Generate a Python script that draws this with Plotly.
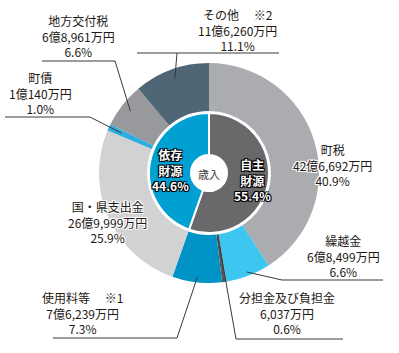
import math
import plotly.graph_objects as go

# ---- data ----
categories = ["町税", "繰越金", "分担金及び負担金", "使用料等", "国・県支出金", "町債", "地方交付税", "その他"]
notes = ["", "", "", "※1", "", "", "", "※2"]
amounts = ["42億6,692万円", "6億8,499万円", "6,037万円", "7億6,239万円", "26億9,999万円", "1億140万円", "6億8,961万円", "11億6,260万円"]
shares = [40.9, 6.6, 0.6, 7.3, 25.9, 1.0, 6.6, 11.1]
outer_colors = ["#abacaf", "#3cc6f0", "#58585b", "#0094c6", "#d1d2d4", "#2faee0", "#98999d", "#4e6676"]

inner_labels = ["自主財源", "依存財源"]
inner_shares = [55.4, 44.6]
inner_colors = ["#69696c", "#00a0d2"]
center_label = "歳入"

# ---- layout geometry (pixels) ----
W, H = 399, 353
CX, CY = 209, 173
R_OUT, R_OUT_IN, R_IN, R_HOLE = 110, 62, 60, 18
FONT = "Noto Sans CJK JP"
TXT = "#231815"


def dom(r):
    return dict(x=[(CX - r) / W, (CX + r) / W],
                y=[(H - CY - r) / H, (H - CY + r) / H])


fig = go.Figure()
fig.add_trace(go.Pie(
    values=shares, labels=categories, sort=False, direction="clockwise", rotation=0,
    hole=R_OUT_IN / R_OUT, domain=dom(R_OUT),
    marker=dict(colors=outer_colors, line=dict(width=0)),
    textinfo="none", hoverinfo="label+percent", showlegend=False,
))
fig.add_trace(go.Pie(
    values=inner_shares, labels=inner_labels, sort=False, direction="clockwise", rotation=0,
    hole=R_HOLE / R_IN, domain=dom(R_IN),
    marker=dict(colors=inner_colors, line=dict(width=2, color="white")),
    textinfo="none", hoverinfo="label+percent", showlegend=False,
))

# mid-angle of each outer slice (deg clockwise from 12 o'clock)
tot = sum(shares)
mids = []
acc = 0
for v in shares:
    mids.append((acc + v / 2) / tot * 360)
    acc += v


def slice_pt(i, r):
    a = math.radians(mids[i])
    return CX + r * math.sin(a), CY - r * math.cos(a)


halo = "-1px -1px 0 #fff, 1px -1px 0 #fff, -1px 1px 0 #fff, 1px 1px 0 #fff, 0 0 2px #fff"
stroke = "-1px -1px 0 #000, 1px -1px 0 #000, -1px 1px 0 #000, 1px 1px 0 #000, 0 0 2px #000"


def lab(i):
    head = categories[i] + ("　 " + notes[i] if notes[i] else "")
    return f"{head}<br>{amounts[i]}<br>{shares[i]:.1f}%"


# (center x, y of middle line)
label_pos = {0: (332, 165), 1: (343, 256), 2: (287, 313), 3: (82, 313),
             4: (107, 222), 5: (40, 93), 6: (78, 36), 7: (237, 30)}

annotations = []
for i, (x, y) in label_pos.items():
    annotations.append(dict(x=x, y=y, xref="x", yref="y", text=lab(i), showarrow=False,
                            xanchor="center", yanchor="middle", align="center",
                            font=dict(family=FONT, size=12, color=TXT, shadow=halo)))

# inner ring labels
inner_pos = [(252, 180), (170, 170)]
for j in range(2):
    x, y = inner_pos[j]
    t = inner_labels[j]
    annotations.append(dict(x=x, y=y, xref="x", yref="y",
                            text=f"<b>{t[:2]}<br>{t[2:]}<br>{inner_shares[j]:.1f}%</b>",
                            showarrow=False, xanchor="center", yanchor="middle", align="center",
                            font=dict(family=FONT, size=12, color="white", shadow=stroke)))
annotations.append(dict(x=CX, y=CY + 1, xref="x", yref="y", text=center_label, showarrow=False,
                        font=dict(family=FONT, size=11, color="#444")))

# leader lines
leaders = [
    (6, 100, [(115, 61), (42, 61)]),
    (5, 96, [(90, 117), (5, 117)]),
    (7, 100, [(177, 53)]),
    (1, 106, [(282, 280), (383, 280)]),
    (2, 63, [(236, 339), (343, 339)]),
    (3, 104, [(177, 338), (53, 338)]),
]
shapes = []
for i, r, pts in leaders:
    p0 = slice_pt(i, r)
    allp = [p0] + pts
    path = "M " + " L ".join(f"{x:.1f},{y:.1f}" for x, y in allp)
    shapes.append(dict(type="path", path=path, xref="x", yref="y",
                       line=dict(color="#3a3a3a", width=1)))
# その他 horizontal rule
shapes.append(dict(type="line", x0=137, x1=279, y0=53, y1=53, xref="x", yref="y",
                   line=dict(color="#3a3a3a", width=1)))

fig.update_layout(
    width=W, height=H, margin=dict(l=0, r=0, t=0, b=0),
    paper_bgcolor="white", plot_bgcolor="rgba(0,0,0,0)",
    xaxis=dict(range=[0, W], visible=False, fixedrange=True),
    yaxis=dict(range=[H, 0], visible=False, fixedrange=True),
    annotations=annotations, shapes=shapes, showlegend=False,
)
fig.write_html("out.html")
